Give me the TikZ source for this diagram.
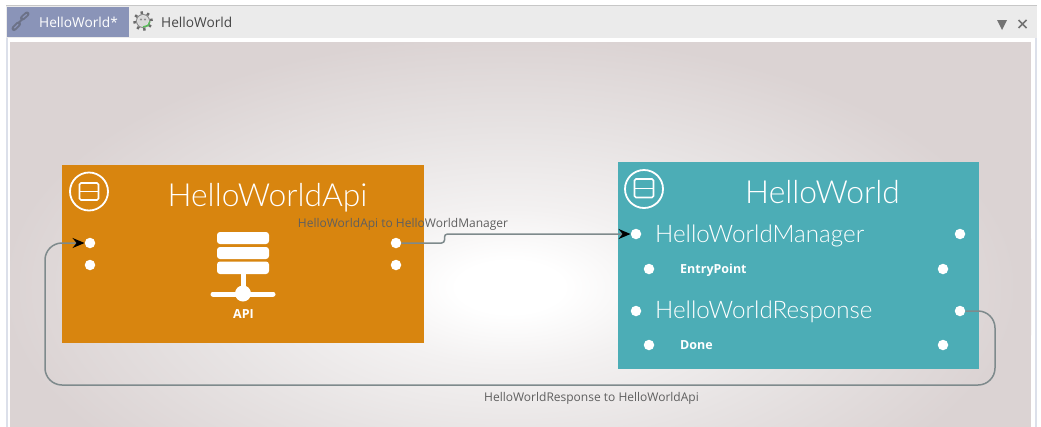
\documentclass[tikz,border=0pt]{standalone}
\usepackage{fontspec}
\setmainfont{Open Sans}
\newfontfamily\lightf[UprightFont={* Light}]{Lato}
\usetikzlibrary{arrows.meta}
\definecolor{bgedge}{HTML}{DBD3D3}
\definecolor{bgmid}{HTML}{E7E3E3}
\definecolor{bgin}{HTML}{F3F1F1}
\definecolor{orangebox}{HTML}{D8850F}
\definecolor{tealbox}{HTML}{4CADB6}
\definecolor{tabbar}{HTML}{EBEBEB}
\definecolor{tabactive}{HTML}{8A94B8}
\definecolor{linkicon}{HTML}{6C7288}
\definecolor{framec}{HTML}{DCE0EA}
\definecolor{wire}{HTML}{7E8A8C}
\definecolor{wiretext}{HTML}{5F5F5F}
\pgfdeclareradialshading{canvasshade}{\pgfpointorigin}{color(0bp)=(white); color(2.5bp)=(white); color(7.5bp)=(bgin); color(15bp)=(bgmid); color(24bp)=(bgedge); color(50bp)=(bgedge)}
\tikzset{
  port/.style={circle,fill=white,draw=none,inner sep=0pt,minimum size=10.5pt},
  boxtitle/.style={text=white,inner sep=0pt,anchor=base,font=\lightf\fontsize{31.8}{33}\selectfont},
  porttitle/.style={text=white,inner sep=0pt,anchor=base west,font=\lightf\fontsize{24.2}{26}\selectfont},
  subtitle/.style={text=white,inner sep=0pt,anchor=base west,font=\bfseries\fontsize{12.5}{13}\selectfont},
  wirelabel/.style={text=wiretext,inner sep=0pt,font=\fontsize{12}{13}\selectfont},
  tabtext/.style={inner sep=0pt,anchor=west,font=\fontsize{13.7}{15}\selectfont},
  wireline/.style={draw=wire,line width=1.5pt},
  arrowed/.style={-{Stealth[black,length=12pt,width=10pt,inset=4pt]}},
  collapse/.style={circle,draw=white,line width=1.8pt,minimum size=38pt,inner sep=0pt},
  collapsebar/.style={draw=white,line width=1.7pt,rounded corners=1.5pt},
}
\begin{document}
\begin{tikzpicture}[x=1pt,y=-1pt]
\useasboundingbox (0,0) rectangle (1041,426);
\fill[white] (0,0) rectangle (1041,430);
% window frame
\fill[framec] (6,5) rectangle (1037,430);
\fill[tabbar] (6,6) rectangle (1037,38);
\draw[black!22,line width=1pt] (6,5.5) -- (1037,5.5);
\fill[white] (8,38) rectangle (1035,430);
% canvas
\fill[bgedge] (10,42) rectangle (1031,430);
\begin{scope}
\clip (10,42) rectangle (1031,430);
\path[shading=canvasshade] (510,287) ellipse (530pt and 262pt);
\end{scope}
% tabs
\fill[tabactive] (7,7) rectangle (129,37);
\node[tabtext,text=white] (tabA) at (39,22) {HelloWorld*};
\node[tabtext,text=black!72] (tabB) at (161,22) {HelloWorld};
% link icon
\draw[draw=linkicon,line width=2pt,line cap=round] (14,28.5) -- (18.5,24) (18,23.5) -- (23,18.5) (22.5,18) -- (27,14);
\draw[draw=linkicon,line width=5pt,line cap=round] (14,28.5) -- (18.5,24);
\draw[draw=linkicon,line width=5pt,line cap=round] (22.5,18) -- (27,14);
\draw[draw=tabactive,line width=1.2pt,line cap=round] (14.5,28) -- (18,24.5);
\draw[draw=tabactive,line width=1.2pt,line cap=round] (23,17.5) -- (26.5,14.5);
% gear icon
\draw[black!58,line width=2.8pt,dash pattern=on 2.4pt off 4.27pt] (143,21) circle (8.5pt);
\draw[black!45,line width=1pt] (143,21) circle (6.5pt);
\fill[white!85!black] (143,21) circle (5.5pt);
\fill[black!45] (141,19.5) circle (1.1pt) (145,19.5) circle (1.1pt);
\draw[green!60!black!65,line width=1.5pt] (143,27) -- (148,25.5) -- (150,21.5);
% window buttons
\fill[black!55] (997,20) -- (1007,20) -- (1002,30) -- cycle;
\draw[black!55,line width=1.6pt] (1018.5,20) -- (1026.5,28) (1026.5,20) -- (1018.5,28);
% boxes
\fill[orangebox] (62,165) rectangle (424,343);
\fill[tealbox] (618,162) rectangle (979,369);
% collapse buttons
\node[collapse] (colA) at (89,191.5) {};
\draw[collapsebar] (79.5,183) rectangle (98.5,200);
\draw[collapsebar] (79.5,191.5) -- (98.5,191.5);
\node[collapse] (colB) at (644,189) {};
\draw[collapsebar] (634.5,179) rectangle (653.5,197.5);
\draw[collapsebar] (634.5,188.5) -- (653.5,188.5);
% titles
\node[boxtitle] (titleA) at (267.5,206) {HelloWorldApi};
\node[boxtitle] (titleB) at (822.5,203) {HelloWorld};
\node[porttitle] (mgr) at (655,242) {HelloWorldManager};
\node[subtitle] (entry) at (680,273) {EntryPoint};
\node[porttitle] (resp) at (655,318.3) {HelloWorldResponse};
\node[subtitle] (done) at (680,349) {Done};
% API icon
\fill[white,rounded corners=3pt] (217,232) rectangle (269,244);
\fill[white,rounded corners=3pt] (217,247) rectangle (269,259);
\fill[white,rounded corners=3pt] (217,261.5) rectangle (269,274);
\fill[white] (240.5,274) rectangle (245.5,294);
\draw[white,line width=5pt,line cap=round] (213,294) -- (273,294);
\fill[white] (243,293.5) circle (8pt);
\node[subtitle] (api) at (233,318.5) {API};
% ports
\node[port] (a1) at (90,243) {};
\node[port] (a2) at (90,265) {};
\node[port] (a3) at (396,243) {};
\node[port] (a4) at (396,265) {};
\node[port] (b1) at (636,234) {};
\node[port] (b2) at (960,234) {};
\node[port] (b3) at (649,269) {};
\node[port] (b4) at (943,269) {};
\node[port] (b5) at (636,311) {};
\node[port] (b6) at (960,311) {};
\node[port] (b7) at (649,345) {};
\node[port] (b8) at (943,345) {};
% connectors
\coordinate (m1) at (444.5,243);
\coordinate (m2) at (444.5,234);
\coordinate (cR) at (995,385);
\coordinate (cL) at (45,385);
\draw[wireline,rounded corners=3pt,arrowed] (a3.east) -- (m1) -- (m2) -- (b1.west);
\draw[wireline,rounded corners=17pt,arrowed] (b6.east) -| (cR) -- (cL) |- (a1.west);
\node[wirelabel] (l1) at (403,224.5) {HelloWorldApi to HelloWorldManager};
\node[wirelabel] (l2) at (591.5,398.5) {HelloWorldResponse to HelloWorldApi};
\end{tikzpicture}
\end{document}
